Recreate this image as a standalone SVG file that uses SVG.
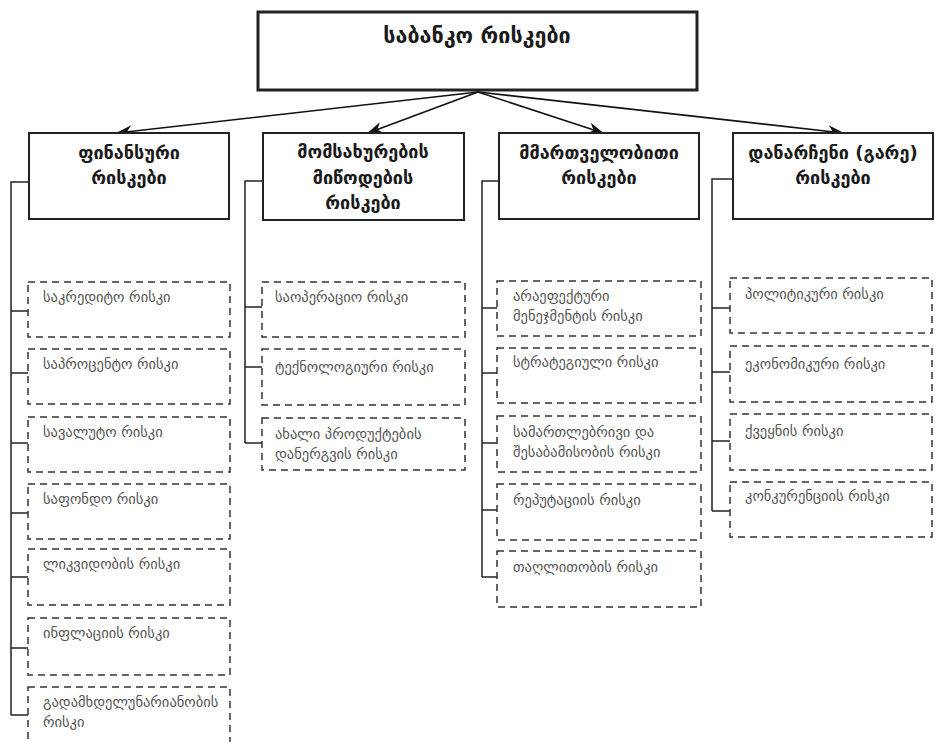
<svg xmlns="http://www.w3.org/2000/svg" width="937" height="742" viewBox="0 0 937 742">
<style>
.title{font-family:"DejaVu Sans",sans-serif;font-size:21.5px;font-weight:bold;fill:#1a1a1a;text-anchor:middle}
.cat{font-family:"DejaVu Sans",sans-serif;font-size:18px;font-weight:bold;fill:#1a1a1a;text-anchor:middle}
.item{font-family:"DejaVu Sans",sans-serif;font-size:14.5px;fill:#555}
.catbox{fill:#fff;stroke:#222;stroke-width:2}
.dbox{fill:none;stroke:#333;stroke-width:1.5;stroke-dasharray:7 5}
.conn{fill:none;stroke:#222;stroke-width:1.5}
.arr{fill:none;stroke:#111;stroke-width:1.6;marker-end:url(#ah)}
</style>
<defs>
<marker id="ah" viewBox="0 0 16 12" refX="15" refY="6" markerWidth="16" markerHeight="12" markerUnits="userSpaceOnUse" orient="auto">
<path d="M0,0 L16,6 L0,12 L5,6 Z" fill="#111"/>
</marker>
</defs>
<rect width="937" height="742" fill="#fff"/>

<g id="root">
<rect x="258" y="12" width="439" height="78" fill="#fff" stroke="#222" stroke-width="3"/>
<text class="title" x="477" y="43">საბანკო რისკები</text>
</g>

<g id="connectors">
<line class="arr" x1="478" y1="92" x2="117" y2="133"/>
<line class="arr" x1="478" y1="92" x2="368" y2="133"/>
<line class="arr" x1="478" y1="92" x2="603" y2="133"/>
<line class="arr" x1="478" y1="92" x2="843" y2="133"/>
<polyline class="conn" points="29,182 11,182 11,715"/>
<line class="conn" x1="11" y1="311" x2="28" y2="311"/>
<line class="conn" x1="11" y1="373" x2="28" y2="373"/>
<line class="conn" x1="11" y1="443" x2="28" y2="443"/>
<line class="conn" x1="11" y1="513" x2="28" y2="513"/>
<line class="conn" x1="11" y1="577" x2="28" y2="577"/>
<line class="conn" x1="11" y1="648" x2="28" y2="648"/>
<line class="conn" x1="11" y1="715" x2="28" y2="715"/>
<polyline class="conn" points="263,181 245,181 245,443"/>
<line class="conn" x1="245" y1="307" x2="262" y2="307"/>
<line class="conn" x1="245" y1="367" x2="262" y2="367"/>
<line class="conn" x1="245" y1="443" x2="262" y2="443"/>
<polyline class="conn" points="499,181 482,181 482,577"/>
<line class="conn" x1="482" y1="308" x2="497" y2="308"/>
<line class="conn" x1="482" y1="373" x2="497" y2="373"/>
<line class="conn" x1="482" y1="443" x2="497" y2="443"/>
<line class="conn" x1="482" y1="510" x2="497" y2="510"/>
<line class="conn" x1="482" y1="577" x2="497" y2="577"/>
<polyline class="conn" points="733,179 712,179 712,511"/>
<line class="conn" x1="712" y1="308" x2="730" y2="308"/>
<line class="conn" x1="712" y1="372" x2="730" y2="372"/>
<line class="conn" x1="712" y1="441" x2="730" y2="441"/>
<line class="conn" x1="712" y1="511" x2="730" y2="511"/>
</g>

<g id="cat1">
<rect class="catbox" x="29" y="133" width="200" height="86"/>
<text class="cat" x="129" y="159">ფინანსური</text>
<text class="cat" x="129" y="184">რისკები</text>
</g>
<g id="cat2">
<rect class="catbox" x="263" y="133" width="201" height="87"/>
<text class="cat" x="363" y="158">მომსახურების</text>
<text class="cat" x="363" y="184">მიწოდების</text>
<text class="cat" x="363" y="209">რისკები</text>
</g>
<g id="cat3">
<rect class="catbox" x="499" y="133" width="200" height="86"/>
<text class="cat" x="599" y="159">მმართველობითი</text>
<text class="cat" x="599" y="184">რისკები</text>
</g>
<g id="cat4">
<rect class="catbox" x="733" y="133" width="200" height="86"/>
<text class="cat" x="833" y="159">დანარჩენი (გარე)</text>
<text class="cat" x="833" y="184">რისკები</text>
</g>

<g id="c1a"><rect class="dbox" x="28" y="282" width="202" height="55"/><text class="item" x="43" y="302">საკრედიტო რისკი</text></g>
<g id="c1b"><rect class="dbox" x="28" y="349" width="202" height="55"/><text class="item" x="43" y="369">საპროცენტო რისკი</text></g>
<g id="c1c"><rect class="dbox" x="28" y="417" width="202" height="55"/><text class="item" x="43" y="437">სავალუტო რისკი</text></g>
<g id="c1d"><rect class="dbox" x="28" y="484" width="202" height="55"/><text class="item" x="43" y="504">საფონდო რისკი</text></g>
<g id="c1e"><rect class="dbox" x="28" y="549" width="202" height="56"/><text class="item" x="43" y="569">ლიკვიდობის რისკი</text></g>
<g id="c1f"><rect class="dbox" x="28" y="618" width="202" height="57"/><text class="item" x="43" y="638">ინფლაციის რისკი</text></g>
<g id="c1g"><rect class="dbox" x="28" y="687" width="202" height="70"/><text class="item" x="43" y="707">გადამხდელუნარიანობის</text><text class="item" x="43" y="727">რისკი</text></g>

<g id="c2a"><rect class="dbox" x="262" y="282" width="203" height="55"/><text class="item" x="275" y="302">საოპერაციო რისკი</text></g>
<g id="c2b"><rect class="dbox" x="262" y="349" width="203" height="56"/><text class="item" x="275" y="372">ტექნოლოგიური რისკი</text></g>
<g id="c2c"><rect class="dbox" x="262" y="418" width="203" height="52"/><text class="item" x="275" y="439">ახალი პროდუქტების</text><text class="item" x="275" y="459">დანერგვის რისკი</text></g>

<g id="c3a"><rect class="dbox" x="497" y="281" width="204" height="55"/><text class="item" x="513" y="301">არაეფექტური</text><text class="item" x="513" y="321">მენეჯმენტის რისკი</text></g>
<g id="c3b"><rect class="dbox" x="497" y="348" width="204" height="55"/><text class="item" x="513" y="367">სტრატეგიული რისკი</text></g>
<g id="c3c"><rect class="dbox" x="497" y="416" width="204" height="56"/><text class="item" x="513" y="437">სამართლებრივი და</text><text class="item" x="513" y="457">შესაბამისობის რისკი</text></g>
<g id="c3d"><rect class="dbox" x="497" y="484" width="204" height="56"/><text class="item" x="513" y="505">რეპუტაციის რისკი</text></g>
<g id="c3e"><rect class="dbox" x="497" y="551" width="204" height="56"/><text class="item" x="513" y="572">თაღლითობის რისკი</text></g>

<g id="c4a"><rect class="dbox" x="730" y="278" width="202" height="55"/><text class="item" x="745" y="299">პოლიტიკური რისკი</text></g>
<g id="c4b"><rect class="dbox" x="730" y="346" width="202" height="56"/><text class="item" x="745" y="369">ეკონომიკური რისკი</text></g>
<g id="c4c"><rect class="dbox" x="730" y="414" width="202" height="56"/><text class="item" x="745" y="436">ქვეყნის რისკი</text></g>
<g id="c4d"><rect class="dbox" x="730" y="482" width="202" height="55"/><text class="item" x="745" y="501">კონკურენციის რისკი</text></g>
</svg>
